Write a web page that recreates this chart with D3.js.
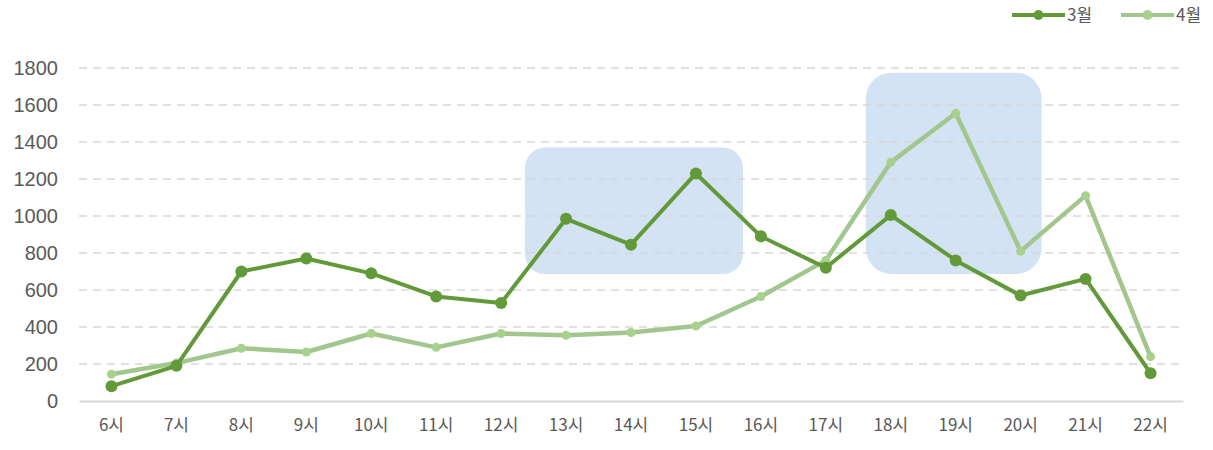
<!DOCTYPE html>
<html><head><meta charset="utf-8">
<script src="https://cdn.jsdelivr.net/npm/d3@7"></script>
<style>body{margin:0;background:#fff;}svg{display:block;font-family:"Liberation Sans",Arial,sans-serif;}</style>
</head><body><svg id="c" width="1213" height="450"></svg>
<script>
const categories = ["6시","7시","8시","9시","10시","11시","12시","13시","14시","15시","16시","17시","18시","19시","20시","21시","22시"];
const march = [80,190,700,770,690,565,530,985,845,1230,890,720,1005,760,570,660,150];
const april = [145,205,285,265,365,290,365,355,370,405,565,760,1290,1555,810,1110,240];
const yTicks = [0,200,400,600,800,1000,1200,1400,1600,1800];
const seriesNames = ["3월","4월"];
const highlightFrom = ["13시","18시"];
const highlightTo = ["15시","20시"];
const highlightTop = [1370,1775];
const highlightBottom = [686,686];

const svg = d3.select("#c");
const x = d3.scaleBand().domain(categories).range([79,1183]);
const y = d3.scaleLinear().domain([0,1800]).range([401,68]);
const cx = d => x(d) + x.bandwidth()/2;

// highlight boxes
const pads = [[41,47],[25,21]];
highlightFrom.forEach((f,i)=>{
  const x0 = cx(f)-pads[i][0], x1 = cx(highlightTo[i])+pads[i][1];
  svg.append("rect").attr("x",x0).attr("y",y(highlightTop[i]))
    .attr("width",x1-x0).attr("height",y(highlightBottom[i])-y(highlightTop[i]))
    .attr("rx",i===0?20:26).attr("fill","#D3E3F3");
});

// gridlines
svg.append("g").selectAll("line").data(yTicks.filter(t=>t>0)).join("line")
  .attr("x1",79).attr("x2",1183).attr("y1",d=>y(d)).attr("y2",d=>y(d))
  .attr("stroke","#d9d9d9").attr("stroke-width",1.5).attr("stroke-dasharray","8,6");

// y axis
const ya = svg.append("g").attr("transform","translate(79,0)")
  .call(d3.axisLeft(y).tickValues(yTicks).tickSize(0).tickPadding(21).tickFormat(d3.format("d")));
ya.select(".domain").remove();
ya.selectAll("text").attr("fill","#595959").style("font-size","20px").style("font-family","'Liberation Sans',Arial,sans-serif");

// x axis
const xa = svg.append("g").attr("transform","translate(0,401)").call(d3.axisBottom(x).tickSize(0).tickPadding(18));
xa.select(".domain").attr("stroke","#d9d9d9").attr("stroke-width",2);
xa.selectAll("text").attr("fill","#595959").style("font-size","17px").style("font-family","'Noto Sans CJK KR','Liberation Sans',sans-serif");

const series = [
  {name:seriesNames[1], data:april, color:"#A2C68E", mfill:"#A9D18E", r:4.5, w:4.5},
  {name:seriesNames[0], data:march, color:"#629A3A", mfill:"#629A3A", r:6, w:4}
];
const line = d3.line().x((d,i)=>cx(categories[i])).y(d=>y(d));
series.forEach(s=>{
  svg.append("path").datum(s.data).attr("d",line).attr("fill","none")
    .attr("stroke",s.color).attr("stroke-width",s.w).attr("stroke-linejoin","round");
  svg.append("g").selectAll("circle").data(s.data).join("circle")
    .attr("cx",(d,i)=>cx(categories[i])).attr("cy",d=>y(d)).attr("r",s.r).attr("fill",s.mfill);
});

// legend
const leg = [{name:seriesNames[0],color:"#629A3A",mfill:"#629A3A",x:1012,r:5},{name:seriesNames[1],color:"#A2C68E",mfill:"#A9D18E",x:1121,r:5}];
leg.forEach(l=>{
  const g = svg.append("g");
  g.append("line").attr("x1",l.x).attr("x2",l.x+53).attr("y1",15).attr("y2",15).attr("stroke",l.color).attr("stroke-width",4);
  g.append("circle").attr("cx",l.x+26.5).attr("cy",15).attr("r",l.r).attr("fill",l.mfill);
  g.append("text").attr("x",l.x+55).attr("y",15).attr("dy","0.35em").text(l.name)
    .attr("fill","#595959").style("font-size","17px").style("font-family","'Noto Sans CJK KR',sans-serif");
});
</script></body></html>
